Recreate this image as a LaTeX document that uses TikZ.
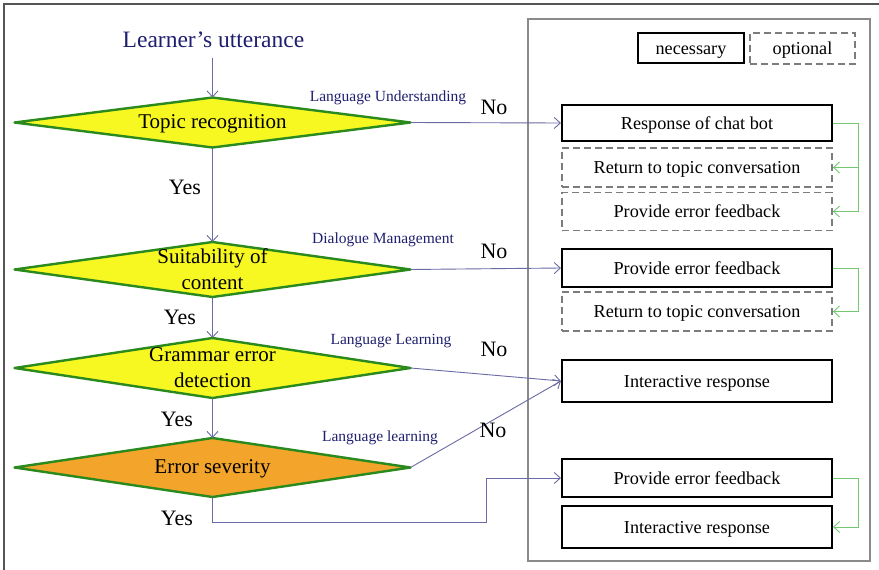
\documentclass[tikz,border=0pt]{standalone}
\usepackage{fontspec}
\setmainfont{Liberation Serif}
\usetikzlibrary{shapes.geometric,arrows.meta}
\definecolor{navy}{HTML}{1F1F70}
\definecolor{conncol}{HTML}{6A6AA4}
\definecolor{dgreen}{HTML}{2A8A1E}
\definecolor{dyellow}{HTML}{F7F722}
\definecolor{dorange}{HTML}{F2A52A}
\definecolor{fbgreen}{HTML}{74C874}
\definecolor{panelgray}{HTML}{8A8A8A}
\definecolor{dashgray}{HTML}{7C7C7C}
\definecolor{framegray}{HTML}{555555}
\begin{document}
\begin{tikzpicture}[x=1pt,y=-1pt,
  decision/.style={diamond, draw=dgreen, line width=2.4pt, line join=round, minimum width=396pt, inner sep=0pt, outer sep=0pt, fill=dyellow},
  dtext/.style={font=\fontsize{21}{26}\selectfont, align=center, inner sep=0pt},
  boxbase/.style={inner sep=0pt, text height=15pt, text depth=2.5pt, font=\fontsize{18.2}{20}\selectfont},
  solidbox/.style={boxbase, draw=black, line width=2.2pt},
  dashbox/.style={boxbase, draw=dashgray, line width=1.8pt, dash pattern=on 7pt off 4pt},
  wide/.style={minimum width=270pt},
  conn/.style={draw=conncol, line width=0.9pt, -{Straight Barb[length=6pt,width=11pt]}},
  fb/.style={draw=fbgreen, line width=0.9pt, -{Straight Barb[length=6pt,width=11pt]}},
  small/.style={font=\fontsize{15.5}{18}\selectfont, text=navy, inner sep=0pt},
  yn/.style={font=\fontsize{22}{24}\selectfont, inner sep=0pt}
]
\useasboundingbox (0,0) rectangle (879,570);
% outer frame (top and left edges visible)
\draw[framegray, line width=1.5pt] (4,570) -- (4,4) -- (879,4);
% right panel
\node[draw=panelgray, line width=2pt, minimum width=342pt, minimum height=542pt, inner sep=0pt] (panel) at (699,290) {};

% title
\node[font=\fontsize{23.5}{26}\selectfont, text=navy, inner sep=0pt] (start) at (213.5,40) {Learner’s utterance};
\coordinate (s1) at (212.5,58);

% decisions
\node[decision, minimum height=50pt] (d1) at (212.5,122.5) {};
\node[dtext] (d1t) at ([yshift=-1pt]d1.center) {Topic recognition};
\node[decision, minimum height=55pt] (d2) at (212.5,269.5) {};
\node[dtext] (d2t) at (d2) {Suitability of\\content};
\node[decision, minimum height=60pt] (d3) at (212.5,368) {};
\node[dtext] (d3t) at (d3) {Grammar error\\detection};
\node[decision, minimum height=59pt, fill=dorange] (d4) at (212.5,467.5) {};
\node[dtext] (d4t) at ([yshift=-1pt]d4.center) {Error severity};

% legend
\node[solidbox, minimum width=106pt, minimum height=30pt] (nec) at (691,48) {necessary};
\node[dashbox, minimum width=105pt, minimum height=31pt] (opt) at (802.5,48.5) {optional};

% action boxes
\node[solidbox, wide, minimum height=36pt] (rcb) at (697,123) {Response of chat bot};
\node[dashbox, wide, minimum height=39pt] (rtc1) at (697,167.5) {Return to topic conversation};
\node[dashbox, wide, minimum height=38pt] (pef1) at (697,211.5) {Provide error feedback};
\node[solidbox, wide, minimum height=38pt] (pef2) at (697,268) {Provide error feedback};
\node[dashbox, wide, minimum height=39pt] (rtc2) at (697,311.5) {Return to topic conversation};
\node[solidbox, wide, minimum height=42pt] (ir1) at (697,381) {Interactive response};
\node[solidbox, wide, minimum height=38pt] (pef3) at (697,478) {Provide error feedback};
\node[solidbox, wide, minimum height=42pt] (ir2) at (697,527) {Interactive response};

% main flow
\draw[conn] (s1) -- (d1.north);
\draw[conn] (d1.south) -- (d2.north);
\draw[conn] (d2.south) -- (d3.north);
\draw[conn] (d3.south) -- (d4.north);

% No branches
\draw[conn] (d1.east) -- (rcb.west);
\draw[conn] (d2.east) -- (pef2.west);
\draw[conn] (d3.east) -- (ir1.west);
\draw[conn] (d4.east) -- (ir1.west);
\coordinate (y4b) at (486,522);
\draw[conn] (d4.south) |- (y4b) |- (pef3.west);

% labels
\node[small] (l1) at (388,98) {Language Understanding};
\node[small] (l2) at (383,240) {Dialogue Management};
\node[small] (l3) at (391,341) {Language Learning};
\node[small] (l4) at (380,438) {Language learning};
\node[yn] (n1) at (494,107) {No};
\node[yn] (n2) at (494,251) {No};
\node[yn] (n3) at (494,349) {No};
\node[yn] (n4) at (493,430) {No};
\node[yn] (y1) at (185,187) {Yes};
\node[yn] (y2) at (180,317) {Yes};
\node[yn] (y3) at (177,419) {Yes};
\node[yn] (y4) at (177,518) {Yes};

% green feedback connectors
\coordinate (g1) at (858,123);
\draw[fb] (rcb.east) -- (g1) |- (pef1.east);
\draw[fb] (g1 |- rtc1.east) -- (rtc1.east);
\coordinate (g2) at (858,268);
\draw[fb] (pef2.east) -- (g2) |- (rtc2.east);
\coordinate (g3) at (858,478);
\draw[fb] (pef3.east) -- (g3) |- (ir2.east);
\end{tikzpicture}
\end{document}
